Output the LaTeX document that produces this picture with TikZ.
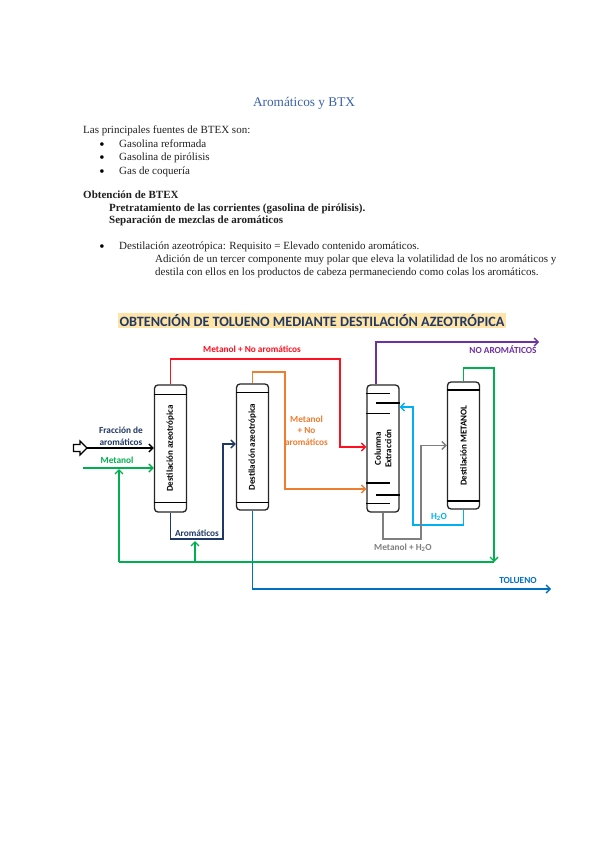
\documentclass[tikz,border=0pt]{standalone}
\usepackage{fontspec}
\setmainfont{Liberation Serif}
\newfontfamily\dia{Carlito}
\usetikzlibrary{arrows.meta}
\definecolor{cTitle}{HTML}{3A62A8}
\definecolor{cNavy}{HTML}{1F3864}
\definecolor{cRed}{HTML}{FF1020}
\definecolor{cOrange}{HTML}{ED7D31}
\definecolor{cPurple}{HTML}{7030A0}
\definecolor{cGreen}{HTML}{00B050}
\definecolor{cSky}{HTML}{00B0F0}
\definecolor{cGray}{HTML}{7F7F7F}
\definecolor{cBlue}{HTML}{0070C0}
\definecolor{cBanner}{HTML}{FFE4A6}
\definecolor{cText}{HTML}{202020}
\tikzset{
  bodytext/.style={anchor=base west,inner sep=0pt,font=\fontsize{11}{13}\selectfont,text=cText},
  boldtext/.style={bodytext,font=\fontsize{11}{13}\selectfont\bfseries},
  bulletmark/.style={anchor=center,inner sep=0pt,font=\fontsize{15}{15}\selectfont,text=black},
  column/.style={draw=black!85,line width=1.3pt,rounded corners=3.5pt,minimum width=32pt,inner sep=0pt,fill=white,font=\dia\bfseries\fontsize{9}{10}\selectfont},
  tray/.style={black,line width=1.1pt},
  thicktray/.style={black,line width=1.8pt},
  flow/.style={line width=1.6pt,-{Straight Barb[length=4pt,width=8pt,line width=1.4pt]}},
  plainflow/.style={line width=1.6pt},
  lab/.style={inner sep=0pt,align=center,font=\dia\bfseries\fontsize{9.3}{11.5}\selectfont}
}
\begin{document}
\begin{tikzpicture}[x=1pt,y=-1pt]
\useasboundingbox[fill=white] (0,0) rectangle (600,848);
% texts
\node[anchor=center,inner sep=0pt,font=\fontsize{13.3}{15}\selectfont,text=cTitle] (title) at (304,103) {Aromáticos y BTX};
\node[bodytext] (t1) at (83,133) {Las principales fuentes de BTEX son:};
\node[bulletmark] (b1) at (102,146) {•};
\node[bodytext] (t2) at (119,147) {Gasolina reformada};
\node[bulletmark] (b2) at (102,159.5) {•};
\node[bodytext] (t3) at (119,160.5) {Gasolina de pirólisis};
\node[bulletmark] (b3) at (102,173) {•};
\node[bodytext] (t4) at (119,174) {Gas de coquería};
\node[boldtext] (t5) at (83,198) {Obtención de BTEX};
\node[boldtext] (t6) at (109,211) {Pretratamiento de las corrientes (gasolina de pirólisis).};
\node[boldtext] (t7) at (109,223.5) {Separación de mezclas de aromáticos};
\node[bulletmark] (b4) at (102,248) {•};
\node[bodytext] (t8) at (119,249) {Destilación azeotrópica: Requisito = Elevado contenido aromáticos.};
\node[bodytext] (t9) at (155,262) {Adición de un tercer componente muy polar que eleva la volatilidad de los no aromáticos y};
\node[bodytext] (t10) at (155,275.5) {destila con ellos en los productos de cabeza permaneciendo como colas los aromáticos.};
% banner
\node[fill=cBanner,text=cNavy,inner sep=0pt,minimum width=388pt,minimum height=15pt,font=\dia\bfseries\fontsize{14.2}{15}\selectfont] (banner) at (312,320.5) {OBTENCIÓN DE TOLUENO MEDIANTE DESTILACIÓN AZEOTRÓPICA};
% columns
\node[column,minimum height=127pt] (col1) at (170.5,448.5) {\rotatebox{90}{Destilación azeotrópica}};
\node[column,minimum height=126pt] (col2) at (252.5,447) {\rotatebox{90}{Destilación azeotrópica}};
\node[column,minimum height=127pt] (col3) at (383,448.5) {\rotatebox{90}{\parbox{50pt}{\centering\baselineskip=10.5pt Columna\\ Extracción}}};
\node[column,minimum height=127pt] (col4) at (463.5,445.5) {\rotatebox{90}{Destilación METANOL}};
% column trays
\draw[tray] ([yshift=-10pt]col1.north west) -- ([yshift=-10pt]col1.north east);
\draw[tray] ([yshift=10pt]col1.south west) -- ([yshift=10pt]col1.south east);
\draw[tray] ([yshift=-9pt]col2.north west) -- ([yshift=-9pt]col2.north east);
\draw[tray] ([yshift=8pt]col2.south west) -- ([yshift=8pt]col2.south east);
\draw[thicktray] ([yshift=-9pt]col4.north west) -- ([yshift=-9pt]col4.north east);
\draw[thicktray] ([yshift=9pt]col4.south west) -- ([yshift=9pt]col4.south east);
\draw[tray] ([yshift=-9pt]col3.north west) -- ([yshift=-9pt,xshift=-10pt]col3.north east);
\draw[thicktray] ([yshift=-19pt,xshift=10pt]col3.north west) -- ([yshift=-19pt]col3.north east);
\draw[tray] ([yshift=-29pt]col3.north west) -- ([yshift=-29pt,xshift=-10pt]col3.north east);
\draw[thicktray] ([yshift=30pt]col3.south west) -- ([yshift=30pt,xshift=-10pt]col3.south east);
\draw[thicktray] ([yshift=18pt,xshift=10pt]col3.south west) -- ([yshift=18pt]col3.south east);
\draw[tray] ([yshift=9pt]col3.south west) -- ([yshift=9pt,xshift=-10pt]col3.south east);
% bend and free-end coordinates
\coordinate (redA) at (340,359);
\coordinate (oraA) at (285,372);
\coordinate (purA) at (539,342);
\coordinate (navA) at (223,539);
\coordinate (bluA) at (551,589);
\coordinate (skyA) at (413,525);
\coordinate (gryA) at (421,539);
\coordinate (grnA) at (494,368);
\coordinate (grnB) at (494,562);
\coordinate (grnC) at (119,562);
\coordinate (grnD) at (119,469);
\coordinate (grnE) at (195,562);
\coordinate (grnF) at (195,541);
\coordinate (metA) at (83,468);
\coordinate (feed) at (87,448);
% labels
\node[lab,text=cRed] (lRed) at (252,349) {Metanol + No aromáticos};
\node[lab,text=cNavy] (lFrac) at (121,436.5) {Fracción de\\aromáticos};
\node[lab,text=cGreen] (lMet) at (117,460) {Metanol};
\node[lab,text=cNavy] (lAro) at (197,533) {Aromáticos};
\node[lab,text=cOrange] (lOra) at (306.5,430.5) {Metanol\\+ No\\aromáticos};
\node[lab,text=cPurple] (lPur) at (503,350) {NO AROMÁTICOS};
\node[lab,text=cSky] (lSky) at (439,517) {H\textsubscript{2}O};
\node[lab,text=cGray] (lGry) at (403,548) {Metanol + H\textsubscript{2}O};
\node[lab,text=cBlue] (lBlu) at (518,580) {TOLUENO};
% feed block arrow
\draw[black,line width=1.2pt,fill=white,line join=miter] (73.5,444.5) -- (80,444.5) -- (80,441) -- (feed) -- (80,455) -- (80,451.5) -- (73.5,451.5) -- cycle;
% connectors
\draw[flow,black] (feed) -- (col1.west |- feed);
\draw[flow,cGreen] (metA) -- (col1.west |- metA);
\draw[flow,cRed] (col1.north) |- (redA) |- ([yshift=1.5pt]col3.west);
\draw[flow,cOrange] (col2.north) |- (oraA) |- ([yshift=-40.5pt]col3.west);
\draw[flow,cPurple] ([xshift=-7pt]col3.north) |- (purA);
\draw[flow,cNavy] (col1.south) |- (navA) |- ([yshift=3pt]col2.west);
\draw[flow,cBlue] (col2.south) |- (bluA);
\draw[flow,cSky] (col4.south) |- (skyA) |- ([yshift=41.5pt]col3.east);
\draw[flow,cGray] (col3.south) |- (gryA) |- (col4.west);
\draw[flow,cGreen] (col4.north) |- (grnA) -- (grnB);
\draw[plainflow,cGreen] (grnB) -- (grnC);
\draw[flow,cGreen] (grnC) -- (grnD);
\draw[flow,cGreen] (grnE) -- (grnF);
\end{tikzpicture}
\end{document}
